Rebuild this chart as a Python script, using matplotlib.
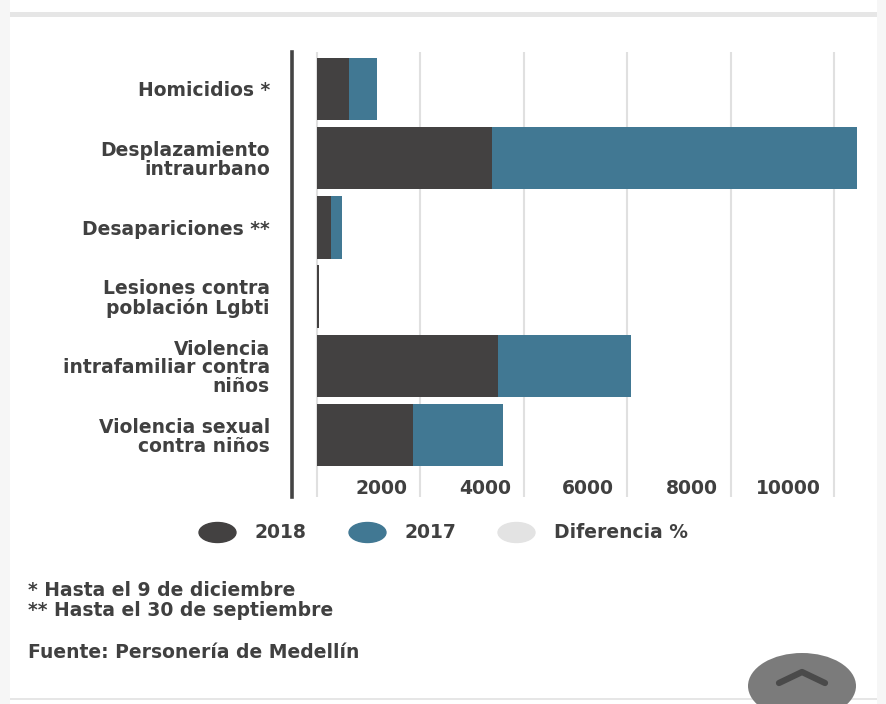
import matplotlib
matplotlib.use("Agg")
import matplotlib.pyplot as plt
from matplotlib.path import Path
from matplotlib.lines import Line2D
from matplotlib.patches import Rectangle, Ellipse
from matplotlib.transforms import Affine2D, blended_transform_factory, offset_copy

categories = ["Homicidios *", "Desplazamiento\nintraurbano", "Desapariciones **",
              "Lesiones contra\npoblación Lgbti", "Violencia\nintrafamiliar contra\nniños",
              "Violencia sexual\ncontra niños"]
v2018 = [610, 3390, 270, 35, 3500, 1860]
v2017 = [550, 7050, 220, 10, 2575, 1735]
ticks = [0, 2000, 4000, 6000, 8000, 10000]
tick_labels = ["2000", "4000", "6000", "8000", "10000"]
legend_labels = ["2018", "2017", "Diferencia %"]
notes = ["* Hasta el 9 de diciembre", "** Hasta el 30 de septiembre"]
source = "Fuente: Personería de Medellín"

C18 = "#434141"
C17 = "#417893"
CDIF = "#e3e3e3"
TXT = "#404040"
FS = 13.5
FW = 'bold'

plt.rcParams['font.family'] = ['DejaVu Sans']

W, H = 887, 704
fig = plt.figure(figsize=(W / 100, H / 100), dpi=100)
fig.patch.set_facecolor("white")

def fx(px):
    return px / W

def fy(py):
    return 1 - py / H

# page decorations
fig.add_artist(Rectangle((0, 0), fx(10), 1, transform=fig.transFigure, color="#f6f6f6", lw=0, zorder=0))
fig.add_artist(Rectangle((fx(877), 0), fx(10), 1, transform=fig.transFigure, color="#f6f6f6", lw=0, zorder=0))
fig.add_artist(Rectangle((fx(10), fy(17)), fx(867), 5 / H, transform=fig.transFigure, color="#e6e6e6", lw=0, zorder=0))
fig.add_artist(Rectangle((fx(10), fy(700)), fx(867), 2 / H, transform=fig.transFigure, color="#e6e6e6", lw=0, zorder=0))

# axes
left_px, right_px, top_px, bot_px = 292, 860, 52, 497
ax = fig.add_axes([fx(left_px), fy(bot_px), fx(right_px - left_px), (bot_px - top_px) / H])
px_per_unit = 103.4 / 2000
x0 = -(317 - left_px) / px_per_unit
x1 = (right_px - 317) / px_per_unit
ax.set_xlim(x0, x1)
pitch = 69.2
c0 = 89
ax.set_ylim((bot_px - c0) / pitch, (top_px - c0) / pitch)

y = list(range(len(categories)))
ax.barh(y, v2018, height=0.9, color=C18, zorder=3)
ax.barh(y, v2017, left=v2018, height=0.9, color=C17, zorder=3)

ax.set_xticks(ticks)
ax.set_xticklabels([])
ax.tick_params(axis='x', length=0)
ax.grid(axis='x', color="#e0e0e0", linewidth=1.5, zorder=0)
ax.set_axisbelow(True)

ax.set_yticks(y)
ax.set_yticklabels(categories, fontsize=FS, fontweight=FW, color=TXT, linespacing=0.97,
                   ha='right', multialignment='right')
ax.tick_params(axis='y', length=0, pad=16)

for s in ['top', 'right', 'bottom']:
    ax.spines[s].set_visible(False)
ax.spines['left'].set_color("#444444")
ax.spines['left'].set_linewidth(2.6)

trans = blended_transform_factory(ax.transData, ax.transAxes)
trans = offset_copy(trans, fig=fig, x=-13, y=0, units='dots')
for t, lab in zip(ticks[1:], tick_labels):
    ax.text(t, (bot_px - 488) / (bot_px - top_px), lab, transform=trans,
            ha='right', va='center', fontsize=FS, color=TXT, fontweight=FW)

# legend
ell = Path.unit_circle().transformed(Affine2D().scale(1.85, 1.0))
handles = [Line2D([], [], linestyle='none', marker=ell, markersize=26.6,
                  markerfacecolor=c, markeredgecolor=c) for c in (C18, C17, CDIF)]
leg = fig.legend(handles, legend_labels, loc='center', bbox_to_anchor=(fx(443), fy(533)),
                 ncol=3, frameon=False, handlelength=2.0,
                 handletextpad=1.0, columnspacing=2.2,
                 prop={'size': FS, 'weight': FW})
for t in leg.get_texts():
    t.set_color(TXT)

# notes
fig.text(fx(28), fy(590), notes[0], fontsize=FS, fontweight=FW, color=TXT, va='center', ha='left')
fig.text(fx(28), fy(611), notes[1], fontsize=FS, fontweight=FW, color=TXT, va='center', ha='left')
fig.text(fx(28), fy(653), source, fontsize=FS, fontweight=FW, color=TXT, va='center', ha='left')

# scroll-up button
fig.add_artist(Ellipse((fx(802), fy(686)), fx(108), 66 / H, transform=fig.transFigure,
                       color="#7b7b7b", lw=0, zorder=5))
fig.add_artist(Line2D([fx(779), fx(802), fx(825)], [fy(683), fy(672), fy(683)],
                      transform=fig.transFigure, color="#4a4a4a", lw=4.5,
                      solid_capstyle='round', solid_joinstyle='round', zorder=6))

fig.savefig("out.png", dpi=100)
